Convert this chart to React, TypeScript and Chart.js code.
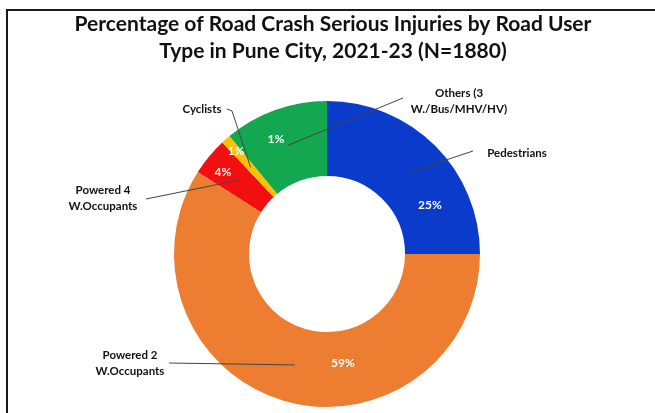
import React, { useEffect, useRef } from "react";
import { Chart, registerables } from "chart.js";

Chart.register(...registerables);

const titleLines = [
  "Percentage of Road Crash Serious Injuries by Road User",
  "Type in Pune City, 2021-23 (N=1880)",
];
const categories = [
  "Pedestrians",
  "Powered 2 W.Occupants",
  "Powered 4 W.Occupants",
  "Cyclists",
  "Others (3 W./Bus/MHV/HV)",
];
const calloutText = [
  ["Pedestrians"],
  ["Powered 2", "W.Occupants"],
  ["Powered 4", "W.Occupants"],
  ["Cyclists"],
  ["Others (3", "W./Bus/MHV/HV)"],
];
const values = [25, 59, 4, 1, 11];
const valueLabels = ["25%", "59%", "4%", "1%", "1%"];
const colors = ["#0B3BCB", "#ED7D31", "#F20F0F", "#FFC000", "#13A74F"];

// annotation layout, relative to the doughnut centre
const pctOffsets = [
  [103, -49],
  [16, 109],
  [-104, -82],
  [-91, -103],
  [-51, -115],
];
const textOffsets = [
  [190, -101],
  [-197, 101],
  [-224, -64],
  [-125, -145],
  [132, -161],
];
const lineStarts = [
  [[146, -103]],
  [[-158, 109]],
  [[-181, -55]],
  [[-100, -145], [-95, -143]],
  [[76, -156]],
];

const annotate = {
  id: "annotate",
  afterDatasetsDraw(chart: any) {
    const ctx = chart.ctx;
    const meta = chart.getDatasetMeta(0);
    const arcs = meta.data;
    if (!arcs.length) return;
    const cx = arcs[0].x;
    const cy = arcs[0].y;
    ctx.save();
    // leader lines
    ctx.strokeStyle = "#454545";
    ctx.lineWidth = 1;
    arcs.forEach((arc: any, i: number) => {
      const p = arc.getCenterPoint();
      ctx.beginPath();
      const pts = lineStarts[i];
      ctx.moveTo(cx + pts[0][0], cy + pts[0][1]);
      for (let k = 1; k < pts.length; k++) ctx.lineTo(cx + pts[k][0], cy + pts[k][1]);
      ctx.lineTo(p.x, p.y);
      ctx.stroke();
    });
    // percentage labels
    ctx.fillStyle = "#ffffff";
    ctx.font = "bold 12px Lato";
    ctx.textAlign = "center";
    ctx.textBaseline = "middle";
    valueLabels.forEach((t, i) => {
      ctx.fillText(t, cx + pctOffsets[i][0], cy + pctOffsets[i][1]);
    });
    // category labels
    ctx.fillStyle = "#111111";
    ctx.font = "bold 11.5px Lato";
    calloutText.forEach((lines, i) => {
      lines.forEach((t, k) => {
        ctx.fillText(t, cx + textOffsets[i][0], cy + textOffsets[i][1] + k * 16);
      });
    });
    // title
    ctx.fillStyle = "#111111";
    ctx.font = "bold 21px Lato";
    ctx.textBaseline = "alphabetic";
    titleLines.forEach((t, k) => {
      ctx.fillText(t, 333, 31 + k * 27);
    });
    ctx.restore();
  },
};

export default function App() {
  const ref = useRef<HTMLCanvasElement>(null);
  useEffect(() => {
    if (!ref.current) return;
    const chart = new Chart(ref.current, {
      type: "doughnut",
      data: {
        labels: categories,
        datasets: [
          {
            data: values,
            backgroundColor: colors,
            borderWidth: 0,
            hoverOffset: 0,
            offset: 0,
          },
        ],
      },
      options: {
        responsive: false,
        animation: false,
        cutout: "51%",
        rotation: 0,
        layout: { padding: { top: 101, bottom: 6, left: 167, right: 168 } },
        plugins: {
          legend: { display: false },
          tooltip: { enabled: false },
          title: { display: false },
        },
      },
      plugins: [annotate],
    });
    return () => chart.destroy();
  }, []);
  return (
    <div style={{ position: "absolute", left: 0, top: 0, width: 655, height: 413, background: "#fff" }}>
      <canvas ref={ref} width={655} height={413} style={{ position: "absolute", left: 0, top: 0 }} />
      <div
        style={{
          position: "absolute",
          left: 6,
          top: 9,
          width: 649,
          height: 404,
          borderTop: "2px solid #1a1a1a",
          borderLeft: "2px solid #1a1a1a",
          boxSizing: "border-box",
          pointerEvents: "none",
        }}
      />
    </div>
  );
}
